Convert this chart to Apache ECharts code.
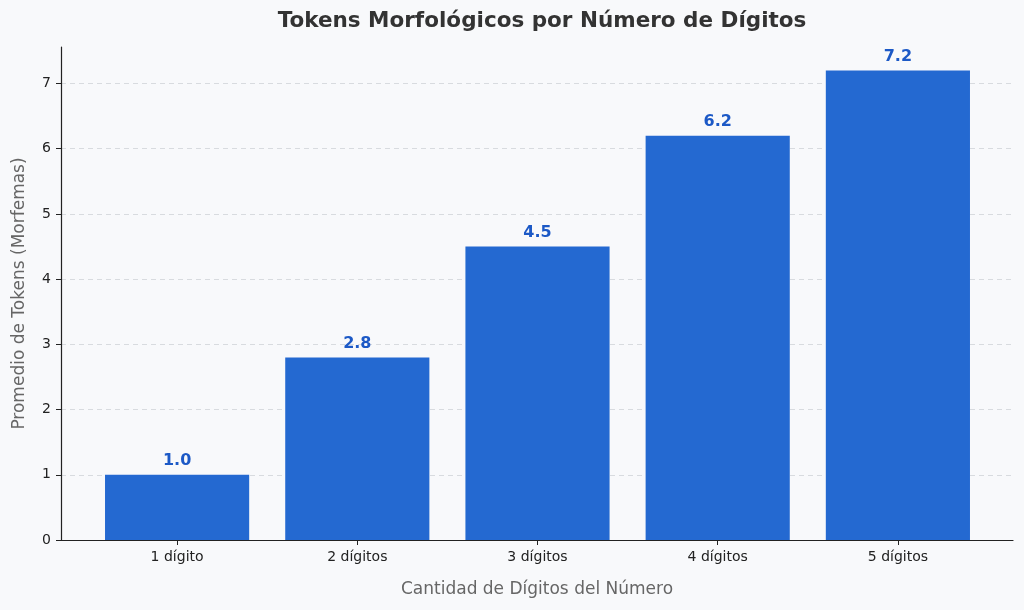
<!DOCTYPE html>
<html>
<head>
<meta charset="utf-8">
<script src="https://cdn.jsdelivr.net/npm/echarts@6/dist/echarts.min.js"></script>
<style>
	html, body { margin: 0; padding: 0; background: #f8f9fb; }
	#chart { width: 1024px; height: 610px; }
</style>
</head>
<body>
<div id="chart"></div>
<script>
//Chart data
let categories = ["1 dígito", "2 dígitos", "3 dígitos", "4 dígitos", "5 dígitos"];
let token_values = [1.0, 2.8, 4.5, 6.2, 7.2];
let y_ticks = [0, 1, 2, 3, 4, 5, 6, 7];

let font_family = "DejaVu Sans";
let y_max = 7.56;

let chart = echarts.init(document.getElementById("chart"), null, { renderer: "canvas" });

chart.setOption({
	backgroundColor: "#f8f9fb",
	animation: false,
	title: {
		text: "Tokens Morfológicos por Número de Dígitos",
		left: 537,
		textAlign: "center",
		top: 5,
		textStyle: {
			color: "#333333",
			fontFamily: font_family,
			fontWeight: "bold",
			fontSize: 21.5
		}
	},
	grid: [
		//Outer frame: axis lines, y ticks, gridlines
		{ left: 61, right: 11, top: 47, bottom: 70 },
		//Inner band: bars and category labels (matplotlib-style margins)
		{ left: 87, right: 36, top: 47, bottom: 70 }
	],
	xAxis: [{
		gridIndex: 0,
		type: "value",
		min: 0,
		max: 1,
		axisLine: { show: true, onZero: false, lineStyle: { color: "#222222", width: 1.2 } },
		axisTick: { show: false },
		axisLabel: { show: false },
		splitLine: { show: false },
		name: "Cantidad de Dígitos del Número",
		nameLocation: "middle",
		nameGap: 41,
		nameTextStyle: { color: "#666666", fontFamily: font_family, fontSize: 17 }
	}, {
		gridIndex: 1,
		type: "category",
		data: categories,
		boundaryGap: true,
		axisLine: { show: false },
		axisTick: { show: true, alignWithLabel: true, length: 5, lineStyle: { color: "#222222" } },
		axisLabel: { color: "#222222", fontFamily: font_family, fontSize: 14, margin: 10 },
		splitLine: { show: false }
	}],
	yAxis: [{
		gridIndex: 0,
		type: "value",
		min: 0,
		max: y_max,
		interval: 1,
		axisLine: { show: true, lineStyle: { color: "#222222", width: 1.2 } },
		axisTick: { show: true, length: 5, lineStyle: { color: "#222222" } },
		axisLabel: {
			color: "#222222",
			fontFamily: font_family,
			fontSize: 14,
			margin: 10,
			showMaxLabel: false,
			formatter: (value) => (y_ticks.includes(value)) ? String(value) : ""
		},
		splitLine: { show: true, showMaxLine: false, lineStyle: { color: "#cfd3d8", type: [5, 4], width: 0.8 } },
		name: "Promedio de Tokens (Morfemas)",
		nameLocation: "middle",
		nameGap: 33,
		nameTextStyle: { color: "#666666", fontFamily: font_family, fontSize: 17 }
	}, {
		gridIndex: 1,
		type: "value",
		min: 0,
		max: y_max,
		show: false,
		splitLine: { show: false }
	}],
	series: [{
		type: "bar",
		xAxisIndex: 1,
		yAxisIndex: 1,
		data: token_values,
		barWidth: "80%",
		itemStyle: { color: "#2469d1" },
		label: {
			show: true,
			position: "top",
			distance: 6,
			color: "#1c59c6",
			fontFamily: font_family,
			fontWeight: "bold",
			fontSize: 16,
			formatter: (params) => params.value.toFixed(1)
		}
	}]
});
</script>
</body>
</html>
